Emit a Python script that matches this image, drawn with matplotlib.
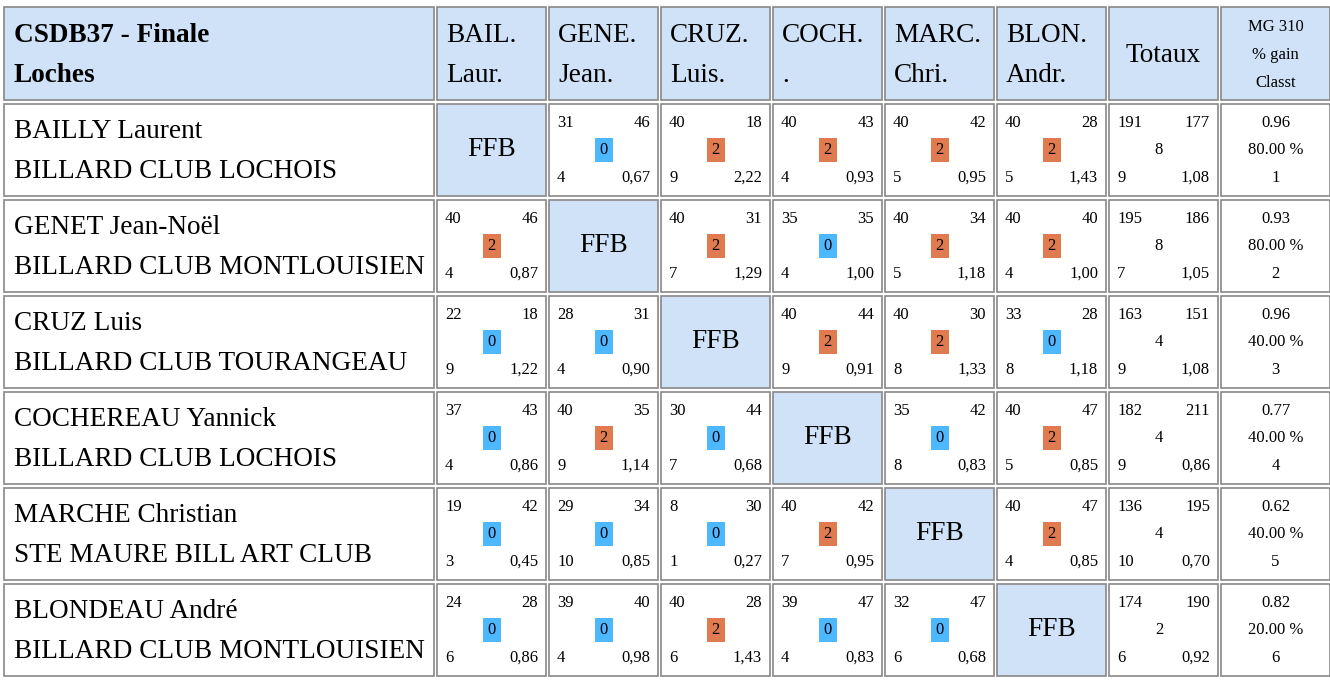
import matplotlib.pyplot as plt
from matplotlib.patches import Rectangle

# table content
title_lines = ["CSDB37 - Finale", "Loches"]
col_heads = [("BAIL.", "Laur."), ("GENE.", "Jean."), ("CRUZ.", "Luis."),
             ("COCH.", "."), ("MARC.", "Chri."), ("BLON.", "Andr.")]
players = ["BAILLY Laurent", "GENET Jean-Noël", "CRUZ Luis",
           "COCHEREAU Yannick", "MARCHE Christian", "BLONDEAU André"]
clubs = ["BILLARD CLUB LOCHOIS", "BILLARD CLUB MONTLOUISIEN", "BILLARD CLUB TOURANGEAU",
         "BILLARD CLUB LOCHOIS", "STE MAURE BILL ART CLUB", "BILLARD CLUB MONTLOUISIEN"]
# (points made, distance, match points, innings, average) per opponent; None = FFB
matches = [
    [None, (31, 46, 0, 4, "0,67"), (40, 18, 2, 9, "2,22"), (40, 43, 2, 4, "0,93"), (40, 42, 2, 5, "0,95"), (40, 28, 2, 5, "1,43")],
    [(40, 46, 2, 4, "0,87"), None, (40, 31, 2, 7, "1,29"), (35, 35, 0, 4, "1,00"), (40, 34, 2, 5, "1,18"), (40, 40, 2, 4, "1,00")],
    [(22, 18, 0, 9, "1,22"), (28, 31, 0, 4, "0,90"), None, (40, 44, 2, 9, "0,91"), (40, 30, 2, 8, "1,33"), (33, 28, 0, 8, "1,18")],
    [(37, 43, 0, 4, "0,86"), (40, 35, 2, 9, "1,14"), (30, 44, 0, 7, "0,68"), None, (35, 42, 0, 8, "0,83"), (40, 47, 2, 5, "0,85")],
    [(19, 42, 0, 3, "0,45"), (29, 34, 0, 10, "0,85"), (8, 30, 0, 1, "0,27"), (40, 42, 2, 7, "0,95"), None, (40, 47, 2, 4, "0,85")],
    [(24, 28, 0, 6, "0,86"), (39, 40, 0, 4, "0,98"), (40, 28, 2, 6, "1,43"), (39, 47, 0, 4, "0,83"), (32, 47, 0, 6, "0,68"), None],
]
totals = [(191, 177, 8, 9, "1,08"), (195, 186, 8, 7, "1,05"), (163, 151, 4, 9, "1,08"),
          (182, 211, 4, 9, "0,86"), (136, 195, 4, 10, "0,70"), (174, 190, 2, 6, "0,92")]
mg = ["0.96", "0.93", "0.96", "0.77", "0.62", "0.82"]
gain = ["80.00 %", "80.00 %", "40.00 %", "40.00 %", "40.00 %", "20.00 %"]
rank = ["1", "2", "3", "4", "5", "6"]

HEAD_BG = "#cfe2f8"
WIN = "#e07b50"
LOSS = "#4db8ff"
FONT = "Liberation Serif"
BIG = 19.6
SMALL = 12

fig = plt.figure(figsize=(13.3, 6.8), dpi=100)
ax = fig.add_axes([0, 0, 1, 1])
ax.set_xlim(0, 1330)
ax.set_ylim(680, 0)
ax.axis("off")

col_x = [4] + [437 + 112 * i for i in range(8)]
col_w = [430] + [109] * 8
row_y = [7] + [104 + 96 * i for i in range(6)]
row_h = [93] + [92] * 6


def cell(x, y, w, h, bg="white"):
    ax.add_patch(Rectangle((x, y), w, h, facecolor=bg, edgecolor="#888888", lw=1.2))


def txt(x, y, s, size, ha="left", **kw):
    ax.text(x, y, s, fontsize=size, ha=ha, va="center", family=FONT, **kw)


def score_cell(x, y, w, h, vals, badge=True):
    a, b, p, n, avg = vals
    txt(x + 8, y + 19, str(a), SMALL)
    txt(x + w - 8, y + 19, str(b), SMALL, ha="right")
    txt(x + 8, y + h - 18, str(n), SMALL)
    txt(x + w - 8, y + h - 18, avg, SMALL, ha="right")
    cx, cy = x + w / 2, y + h / 2
    if badge:
        ax.add_patch(Rectangle((cx - 9, cy - 12), 18, 24, facecolor=WIN if p == 2 else LOSS, lw=0))
    txt(cx, cy, str(p), SMALL, ha="center")


# header row
cell(col_x[0], row_y[0], col_w[0], row_h[0], HEAD_BG)
txt(14, 36, title_lines[0], BIG, weight="bold")
txt(14, 76, title_lines[1], BIG, weight="bold")
for j, (l1, l2) in enumerate(col_heads):
    x = col_x[j + 1]
    cell(x, row_y[0], col_w[j + 1], row_h[0], HEAD_BG)
    txt(x + 9, 36, l1, BIG)
    txt(x + 9, 76, l2, BIG)
cell(col_x[7], row_y[0], col_w[7], row_h[0], HEAD_BG)
txt(col_x[7] + col_w[7] / 2, 56, "Totaux", BIG, ha="center")
cell(col_x[8], row_y[0], col_w[8], row_h[0], HEAD_BG)
for k, s in enumerate(["MG 310", "% gain", "Classt"]):
    txt(col_x[8] + col_w[8] / 2, 27 + 28 * k, s, SMALL, ha="center")

# player rows
for i in range(6):
    y, h = row_y[i + 1], row_h[i + 1]
    cell(col_x[0], y, col_w[0], h)
    txt(14, y + 28, players[i], BIG)
    txt(14, y + 68, clubs[i], BIG)
    for j in range(6):
        x, w = col_x[j + 1], col_w[j + 1]
        if matches[i][j] is None:
            cell(x, y, w, h, HEAD_BG)
            txt(x + w / 2, y + h / 2, "FFB", BIG, ha="center")
        else:
            cell(x, y, w, h)
            score_cell(x, y, w, h, matches[i][j])
    x, w = col_x[7], col_w[7]
    cell(x, y, w, h)
    a, b, p, n, avg = totals[i]
    txt(x + 8, y + 19, str(a), SMALL)
    txt(x + w - 8, y + 19, str(b), SMALL, ha="right")
    txt(x + 50, y + h / 2, str(p), SMALL, ha="center")
    txt(x + 8, y + h - 18, str(n), SMALL)
    txt(x + w - 8, y + h - 18, avg, SMALL, ha="right")
    x, w = col_x[8], col_w[8]
    cell(x, y, w, h)
    txt(x + w / 2, y + 19, mg[i], SMALL, ha="center")
    txt(x + w / 2, y + h / 2, gain[i], SMALL, ha="center")
    txt(x + w / 2, y + h - 18, rank[i], SMALL, ha="center")

fig.savefig("out.png", dpi=100)
